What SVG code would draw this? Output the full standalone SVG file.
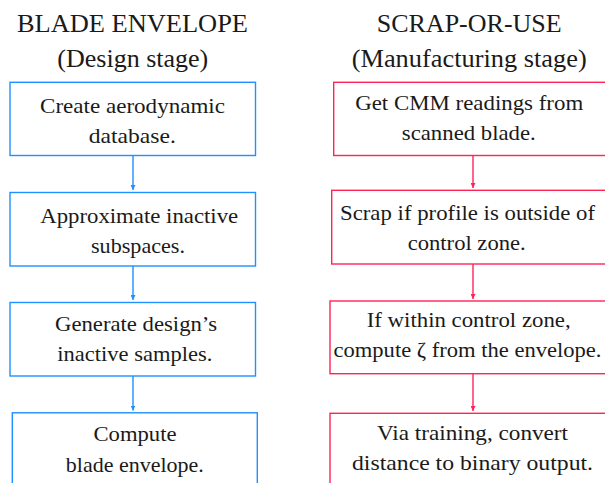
<svg xmlns="http://www.w3.org/2000/svg" width="605" height="483" viewBox="0 0 605 483">
<defs>
<style>
text{fill:#1a1a1a;text-anchor:middle}
.t{font-size:26px}
.b{font-size:22px}
.bl{fill:#fff;stroke:#1e90ff;stroke-width:1.4}
.rd{fill:#fff;stroke:#ff2457;stroke-width:1.4}
.cb{stroke:#1e90ff;stroke-width:1.4;fill:none}
.cr{stroke:#ff2457;stroke-width:1.4;fill:none}
</style>
<marker id="ab" viewBox="0 0 10 10" refX="10" refY="5" markerWidth="5" markerHeight="5" markerUnits="userSpaceOnUse" orient="auto"><path d="M0,0L10,5L0,10z" fill="#1e90ff"/></marker>
<marker id="ar" viewBox="0 0 10 10" refX="10" refY="5" markerWidth="5" markerHeight="5" markerUnits="userSpaceOnUse" orient="auto"><path d="M0,0L10,5L0,10z" fill="#ff2457"/></marker>
</defs>
<rect width="605" height="483" fill="#fff"/>
<g id="titles" font-family="Liberation Serif, Noto Serif, DejaVu Serif, serif">
<text class="t" x="132.5" y="31.7" textLength="231" lengthAdjust="spacingAndGlyphs">BLADE ENVELOPE</text>
<text class="t" x="132.8" y="66.5" textLength="151" lengthAdjust="spacingAndGlyphs">(Design stage)</text>
<text class="t" x="469.2" y="31.7" textLength="185" lengthAdjust="spacingAndGlyphs">SCRAP-OR-USE</text>
<text class="t" x="469.2" y="66.5" textLength="235" lengthAdjust="spacingAndGlyphs">(Manufacturing stage)</text>
</g>
<g id="connectors">
<line class="cb" x1="133" y1="155.5" x2="133" y2="190" marker-end="url(#ab)"/>
<line class="cb" x1="133" y1="266" x2="133" y2="300" marker-end="url(#ab)"/>
<line class="cb" x1="133" y1="376" x2="133" y2="410.5" marker-end="url(#ab)"/>
<line class="cr" x1="473" y1="155.5" x2="473" y2="188" marker-end="url(#ar)"/>
<line class="cr" x1="473" y1="264" x2="473" y2="299" marker-end="url(#ar)"/>
<line class="cr" x1="473" y1="374" x2="473" y2="411" marker-end="url(#ar)"/>
</g>
<g id="b1" font-family="Liberation Serif, Noto Serif, DejaVu Serif, serif">
<rect class="bl" x="10" y="82.3" width="245.5" height="73.2"/>
<text class="b" x="132.5" y="113" textLength="185" lengthAdjust="spacingAndGlyphs">Create aerodynamic</text>
<text class="b" x="132.3" y="143" textLength="87" lengthAdjust="spacingAndGlyphs">database.</text>
</g>
<g id="b2" font-family="Liberation Serif, Noto Serif, DejaVu Serif, serif">
<rect class="bl" x="10" y="192.5" width="245.5" height="73.5"/>
<text class="b" x="139.2" y="223" textLength="198" lengthAdjust="spacingAndGlyphs">Approximate inactive</text>
<text class="b" x="138" y="253" textLength="94" lengthAdjust="spacingAndGlyphs">subspaces.</text>
</g>
<g id="b3" font-family="Liberation Serif, Noto Serif, DejaVu Serif, serif">
<rect class="bl" x="10" y="302.5" width="245.5" height="73.5"/>
<text class="b" x="136" y="330.5" textLength="162" lengthAdjust="spacingAndGlyphs">Generate design’s</text>
<text class="b" x="134.8" y="360.5" textLength="155" lengthAdjust="spacingAndGlyphs">inactive samples.</text>
</g>
<g id="b4" font-family="Liberation Serif, Noto Serif, DejaVu Serif, serif">
<rect class="bl" x="12.3" y="412.8" width="245" height="80"/>
<text class="b" x="135" y="441" textLength="83" lengthAdjust="spacingAndGlyphs">Compute</text>
<text class="b" x="134.8" y="471.5" textLength="138" lengthAdjust="spacingAndGlyphs">blade envelope.</text>
</g>
<g id="r1" font-family="Liberation Serif, Noto Serif, DejaVu Serif, serif">
<rect class="rd" x="333.7" y="82.3" width="290" height="73.2"/>
<text class="b" x="469.2" y="110" textLength="228" lengthAdjust="spacingAndGlyphs">Get CMM readings from</text>
<text class="b" x="468.8" y="140" textLength="134" lengthAdjust="spacingAndGlyphs">scanned blade.</text>
</g>
<g id="r2" font-family="Liberation Serif, Noto Serif, DejaVu Serif, serif">
<rect class="rd" x="331.7" y="190.3" width="290" height="73.7"/>
<text class="b" x="467.5" y="220" textLength="255" lengthAdjust="spacingAndGlyphs">Scrap if profile is outside of</text>
<text class="b" x="466.7" y="250" textLength="118" lengthAdjust="spacingAndGlyphs">control zone.</text>
</g>
<g id="r3" font-family="Liberation Serif, Noto Serif, DejaVu Serif, serif">
<rect class="rd" x="330" y="301" width="290" height="72.7"/>
<text class="b" x="468.7" y="326.7" textLength="204" lengthAdjust="spacingAndGlyphs">If within control zone,</text>
<text class="b" x="467.5" y="357.3" textLength="268" lengthAdjust="spacingAndGlyphs">compute ζ from the envelope.</text>
</g>
<g id="r4" font-family="Liberation Serif, Noto Serif, DejaVu Serif, serif">
<rect class="rd" x="330" y="413.3" width="290" height="80"/>
<text class="b" x="472.5" y="440" textLength="191" lengthAdjust="spacingAndGlyphs">Via training, convert</text>
<text class="b" x="472.5" y="470" textLength="241" lengthAdjust="spacingAndGlyphs">distance to binary output.</text>
</g>
</svg>
